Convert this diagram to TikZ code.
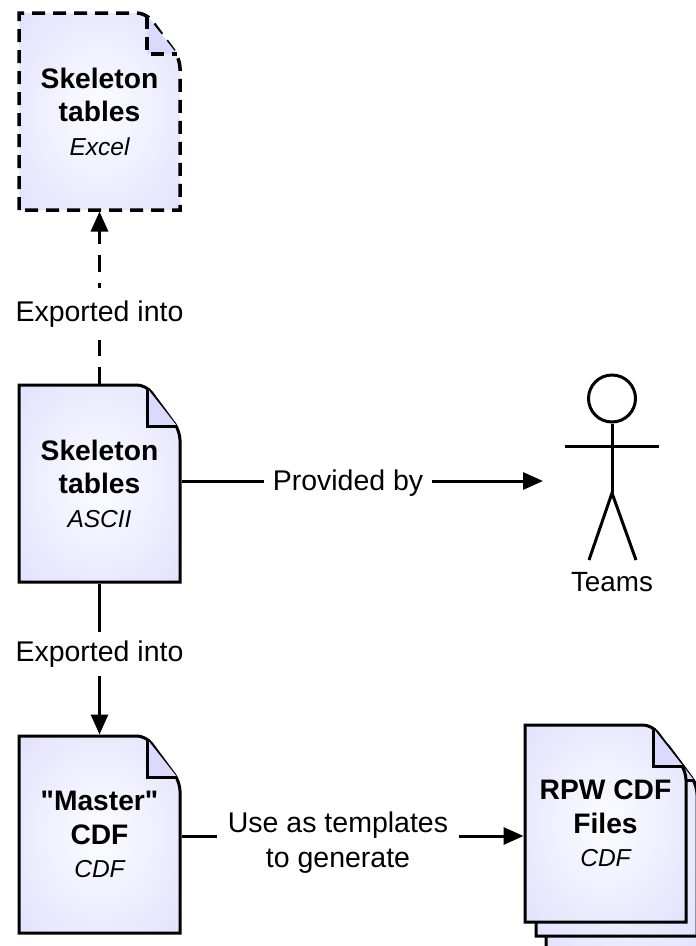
\documentclass[tikz,border=0pt]{standalone}
\usepackage{fontspec}
\setmainfont{Liberation Sans}[Ligatures=TeXOff]
\usetikzlibrary{arrows.meta}
\definecolor{pagerim}{HTML}{C6C6F8}
\definecolor{pagemid}{HTML}{E2E2FE}
\definecolor{pagefold}{HTML}{DADAFE}
\pgfdeclareradialshading{pageshade}{\pgfpointorigin}{color(0bp)=(white!90!pagemid);color(35bp)=(pagemid);color(70bp)=(pagerim)}
\tikzset{
  docbox/.style={minimum width=161pt,minimum height=197pt,inner sep=0pt,align=center,font=\fontsize{28.2}{33.5}\selectfont,execute at begin node={\rule{0pt}{28pt}}},
  linklabel/.style={fill=white,inner xsep=9pt,inner ysep=9pt,align=center,font=\fontsize{28.5}{35}\selectfont},
  linkarrow/.style={line width=3pt,-{Triangle[length=20pt,width=17pt]}},
  dashedlink/.style={linkarrow,dash pattern=on 17pt off 11pt},
  dashedpage/.style={line width=3.5pt,dash pattern=on 13pt off 8pt}
}
% folded page, #1 = extra style, (#2,#3) = top left corner
\newcommand{\docpage}[3][]{
\shadedraw[shading=pageshade,#1] (#2,#3+197) -- (#2,#3) [rounded corners=9pt] -- (#2+127,#3) -- (#2+161,#3+46) [sharp corners] -- (#2+161,#3+197) -- cycle;
\filldraw[fill=pagefold,#1] (#2+128,#3+3) -- (#2+128,#3+41) -- (#2+158,#3+41);
}
\newcommand{\doctype}[1]{{\fontsize{24.5}{33.5}\selectfont\itshape #1}}
\begin{document}
\begin{tikzpicture}[x=1pt,y=-1pt,line width=3pt]
\useasboundingbox (0,0) rectangle (696,946);
\clip (0,0) rectangle (696,946);
\docpage[dashedpage]{19}{13}
\docpage{19}{385}
\docpage{19}{736}
\docpage{546}{753}
\docpage{536}{739}
\docpage{525}{725}
\node[docbox] (skelExcel) at (99.5,111.5) {\textbf{Skeleton}\\\textbf{tables}\\\doctype{Excel}};
\node[docbox] (skelAscii) at (99.5,483.5) {\textbf{Skeleton}\\\textbf{tables}\\\doctype{ASCII}};
\node[docbox] (masterCdf) at (99.5,834.5) {\textbf{"Master"}\\\textbf{CDF}\\\doctype{CDF}};
\node[docbox] (rpwFiles) at (605.5,823.5) {\textbf{RPW CDF}\\\textbf{Files}\\\doctype{CDF}};
% stick figure
\node[circle,draw,minimum size=47pt,inner sep=0pt] (teamsHead) at (612,398.5) {};
\coordinate (teamsHip) at (612,493);
\coordinate (teamsArmL) at (565,446);
\coordinate (teamsArmR) at (659,446);
\coordinate (teamsFootL) at (589,560);
\coordinate (teamsFootR) at (636,560);
\coordinate (teamsEnd) at (543,481);
\coordinate (templateEnd) at (338,836);
\draw (teamsHead) -- (teamsHip);
\draw (teamsArmL) -- (teamsArmR);
\draw (teamsFootL) -- (teamsHip) -- (teamsFootR);
\node[font=\fontsize{27.8}{32}\selectfont,inner sep=0pt] (teamsLabel) at (612,582) {Teams};
% connectors
\draw[dashedlink] (skelAscii.north) -- (skelExcel.south);
\draw[linkarrow] (skelAscii.south) -- (masterCdf.north);
\draw[linkarrow] (skelAscii.east |- teamsEnd) -- (teamsEnd);
\draw[linkarrow] (masterCdf.east |- templateEnd) -- (rpwFiles.west |- templateEnd);
\node[linklabel,inner ysep=13pt] (exportUp) at (99.5,314) {Exported into};
\node[linklabel] (exportDown) at (99.5,654) {Exported into};
\node[linklabel] (providedBy) at (348,483) {Provided by};
\node[linklabel,inner xsep=11pt] (useTemplates) at (338,843) {Use as templates\\to generate};
\end{tikzpicture}
\end{document}
